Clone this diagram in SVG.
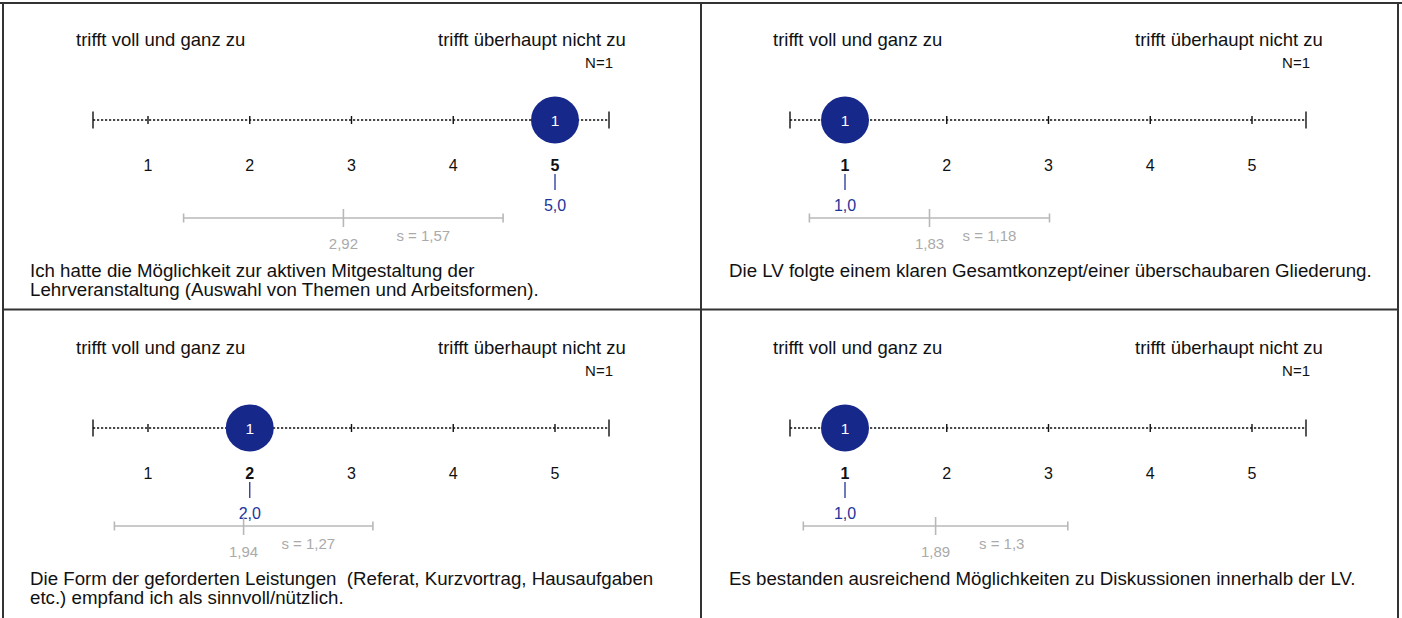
<svg xmlns="http://www.w3.org/2000/svg" width="1402" height="618" viewBox="0 0 1402 618">
<style>
text{font-family:"Liberation Sans",Arial,sans-serif;}
.lbl{font-size:18.5px;fill:#111;}
.n{font-size:15px;fill:#111;text-anchor:end;}
.num{font-size:16px;fill:#111;text-anchor:middle;}
.b{font-weight:bold;}
.val{font-size:16px;fill:#22349a;text-anchor:middle;}
.cnt{font-size:15.5px;fill:#fff;text-anchor:middle;}
.gt{font-size:15px;fill:#aaa;text-anchor:middle;}
.q{font-size:18.7px;fill:#111;}
.axis{stroke:#111;stroke-width:1.4;stroke-dasharray:2.2 1.8;fill:none;}
.tk{stroke:#111;stroke-width:1.4;}
.bt{stroke:#22349a;stroke-width:1.3;}
.gb{stroke:#b8b8b8;stroke-width:1.6;fill:none;}
.dot{fill:#17288b;}
.frame{stroke:#333;stroke-width:2;fill:none;}
</style>
<defs>
<g id="scale">
<line class="axis" x1="93" y1="120" x2="609" y2="120"/>
<line class="tk" x1="93" y1="111.5" x2="93" y2="128.5"/>
<line class="tk" x1="609" y1="111.5" x2="609" y2="128.5"/>
<line class="tk" x1="148" y1="116" x2="148" y2="124"/>
<line class="tk" x1="249.75" y1="116" x2="249.75" y2="124"/>
<line class="tk" x1="351.5" y1="116" x2="351.5" y2="124"/>
<line class="tk" x1="453.25" y1="116" x2="453.25" y2="124"/>
<line class="tk" x1="555" y1="116" x2="555" y2="124"/>
<text class="lbl" x="76" y="46">trifft voll und ganz zu</text>
<text class="lbl" x="438" y="46">trifft überhaupt nicht zu</text>
<text class="n" x="613" y="68">N=1</text>
</g>
</defs>
<g id="frame">
<line class="frame" x1="0" y1="3" x2="1402" y2="3"/>
<line class="frame" x1="3" y1="3" x2="3" y2="618"/>
<line class="frame" x1="701" y1="3" x2="701" y2="618"/>
<line class="frame" x1="1398" y1="3" x2="1398" y2="618"/>
<line class="frame" x1="3" y1="309.5" x2="1398" y2="309.5"/>
</g>
<g id="panel-tl">
<use href="#scale"/>
<text class="num" x="148" y="170.5">1</text>
<text class="num" x="249.75" y="170.5">2</text>
<text class="num" x="351.5" y="170.5">3</text>
<text class="num" x="453.25" y="170.5">4</text>
<text class="num b" x="555" y="170.5">5</text>
<ellipse class="dot" cx="555" cy="120" rx="24" ry="23.5"/>
<text class="cnt" x="555" y="125.5">1</text>
<line class="bt" x1="555" y1="174" x2="555" y2="190"/>
<text class="val" x="555" y="210.5">5,0</text>
<line class="gb" x1="183.6" y1="218" x2="503.1" y2="218"/>
<line class="gb" x1="183.6" y1="213.5" x2="183.6" y2="222.5"/>
<line class="gb" x1="503.1" y1="213.5" x2="503.1" y2="222.5"/>
<line class="gb" x1="343.4" y1="209" x2="343.4" y2="227"/>
<text class="gt" x="343.4" y="248.5">2,92</text>
<text class="gt" x="423.3" y="240.5">s = 1,57</text>
<text class="q" x="30" y="277">Ich hatte die Möglichkeit zur aktiven Mitgestaltung der</text>
<text class="q" x="30" y="296">Lehrveranstaltung (Auswahl von Themen und Arbeitsformen).</text>
</g>
<g id="panel-tr" transform="translate(697,0)">
<use href="#scale"/>
<text class="num b" x="148" y="170.5">1</text>
<text class="num" x="249.75" y="170.5">2</text>
<text class="num" x="351.5" y="170.5">3</text>
<text class="num" x="453.25" y="170.5">4</text>
<text class="num" x="555" y="170.5">5</text>
<ellipse class="dot" cx="148" cy="120" rx="24" ry="23.5"/>
<text class="cnt" x="148" y="125.5">1</text>
<line class="bt" x1="148" y1="174" x2="148" y2="190"/>
<text class="val" x="148" y="210.5">1,0</text>
<line class="gb" x1="112.4" y1="218" x2="352.5" y2="218"/>
<line class="gb" x1="112.4" y1="213.5" x2="112.4" y2="222.5"/>
<line class="gb" x1="352.5" y1="213.5" x2="352.5" y2="222.5"/>
<line class="gb" x1="232.5" y1="209" x2="232.5" y2="227"/>
<text class="gt" x="232.5" y="248.5">1,83</text>
<text class="gt" x="292.5" y="240.5">s = 1,18</text>
<text class="q" x="32" y="277">Die LV folgte einem klaren Gesamtkonzept/einer überschaubaren Gliederung.</text>
</g>
<g id="panel-bl" transform="translate(0,308)">
<use href="#scale"/>
<text class="num" x="148" y="170.5">1</text>
<text class="num b" x="249.75" y="170.5">2</text>
<text class="num" x="351.5" y="170.5">3</text>
<text class="num" x="453.25" y="170.5">4</text>
<text class="num" x="555" y="170.5">5</text>
<ellipse class="dot" cx="249.75" cy="120" rx="24" ry="23.5"/>
<text class="cnt" x="249.75" y="125.5">1</text>
<line class="bt" x1="249.75" y1="174" x2="249.75" y2="190"/>
<text class="val" x="249.75" y="210.5">2,0</text>
<line class="gb" x1="114.4" y1="218" x2="372.9" y2="218"/>
<line class="gb" x1="114.4" y1="213.5" x2="114.4" y2="222.5"/>
<line class="gb" x1="372.9" y1="213.5" x2="372.9" y2="222.5"/>
<line class="gb" x1="243.6" y1="209" x2="243.6" y2="227"/>
<text class="gt" x="243.6" y="248.5">1,94</text>
<text class="gt" x="308.3" y="240.5">s = 1,27</text>
<text class="q" x="30" y="277" xml:space="preserve">Die Form der geforderten Leistungen  (Referat, Kurzvortrag, Hausaufgaben</text>
<text class="q" x="30" y="296">etc.) empfand ich als sinnvoll/nützlich.</text>
</g>
<g id="panel-br" transform="translate(697,308)">
<use href="#scale"/>
<text class="num b" x="148" y="170.5">1</text>
<text class="num" x="249.75" y="170.5">2</text>
<text class="num" x="351.5" y="170.5">3</text>
<text class="num" x="453.25" y="170.5">4</text>
<text class="num" x="555" y="170.5">5</text>
<ellipse class="dot" cx="148" cy="120" rx="24" ry="23.5"/>
<text class="cnt" x="148" y="125.5">1</text>
<line class="bt" x1="148" y1="174" x2="148" y2="190"/>
<text class="val" x="148" y="210.5">1,0</text>
<line class="gb" x1="106.3" y1="218" x2="370.8" y2="218"/>
<line class="gb" x1="106.3" y1="213.5" x2="106.3" y2="222.5"/>
<line class="gb" x1="370.8" y1="213.5" x2="370.8" y2="222.5"/>
<line class="gb" x1="238.6" y1="209" x2="238.6" y2="227"/>
<text class="gt" x="238.6" y="248.5">1,89</text>
<text class="gt" x="304.7" y="240.5">s = 1,3</text>
<text class="q" x="32" y="277">Es bestanden ausreichend Möglichkeiten zu Diskussionen innerhalb der LV.</text>
</g>
</svg>
